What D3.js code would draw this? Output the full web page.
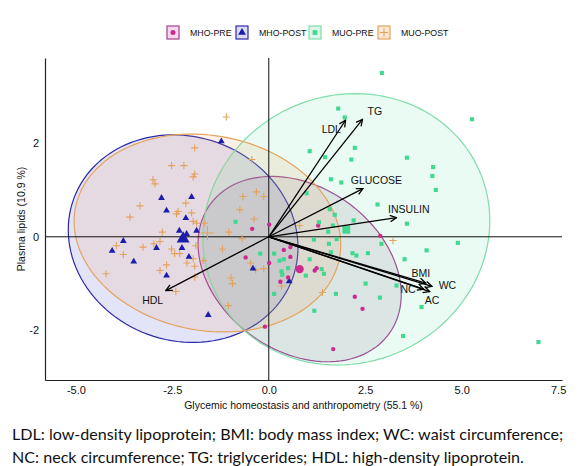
<!DOCTYPE html>
<html><head><meta charset="utf-8">
<script src="https://cdn.jsdelivr.net/npm/d3@7"></script>
<style>
body{margin:0;background:#fff;}
svg text{font-family:"Liberation Sans",Arial,sans-serif;}
</style></head>
<body><svg id="c" width="584" height="466"></svg>
<script>
// ---- data ----
const groups = ["MHO-PRE","MHO-POST","MUO-PRE","MUO-POST"];
const xTicks = [-5, -2.5, 0, 2.5, 5, 7.5];
const yTicks = [-2, 0, 2];
const xTitle = "Glycemic homeostasis and anthropometry (55.1 %)";
const yTitle = "Plasma lipids (10.9 %)";
const caption = ["LDL: low-density lipoprotein; BMI: body mass index; WC: waist circumference;",
                 "NC: neck circumference; TG: triglycerides; HDL: high-density lipoprotein."];

const mhoPre = [[0.01,0.26],[-0.43,0.17],[-0.60,-0.44],[0.01,-0.56],[0.56,-0.22],[0.39,-0.28],[0.56,-0.43],
 [1.19,-0.72],[1.24,-0.67],[0.50,-0.87],[0.30,-0.96],[2.23,-1.28],[2.43,-1.54],[2.89,0.02],[1.67,-2.40],
 [-0.10,-1.92],[1.28,0.24]];
const mhoPost = [[-1.23,2.04],[-2.78,0.83],[-2.00,0.85],[-2.65,0.56],[-2.15,0.40],[-2.32,0.13],[-2.13,0.06],
 [-1.87,0.13],[-3.77,-0.09],[-4.06,-0.30],[-2.91,-0.24],[-2.25,-0.24],[-2.07,-0.43],[-3.50,-0.53],[-2.65,-0.83],
 [-1.57,-1.67],[-0.41,-0.68],[0.53,-0.95]];
const muoPre = [[-0.86,0.32],[-0.22,-0.36],[0.14,-0.36],[0.14,-1.22],[0.28,-0.51],[0.39,-0.48],[0.50,-0.67],
 [0.33,-0.74],[0.35,-0.81],[1.06,-0.48],[0.96,-0.83],[1.37,-0.69],[1.43,-0.79],[1.18,-1.58],[1.30,0.31],
 [1.58,0.59],[1.71,0.47],[1.54,0.11],[1.76,-0.05],[1.17,-0.06],[1.56,-0.15],[2.20,0.35],[2.17,-0.35],
 [2.27,-0.40],[2.57,-0.35],[2.51,-1.00],[1.06,1.83],[1.46,1.70],[2.14,1.65],[0.98,0.93],[1.61,1.23],
 [1.88,1.16],[2.82,0.69],[1.66,0.24],[2.92,-0.15],[1.61,-0.33],[2.88,-1.30],[1.74,-1.22],[3.31,-1.04],
 [2.93,3.50],[1.80,2.74],[1.97,2.55],[5.27,2.51],[2.23,1.90],[3.58,1.69],[4.26,1.49],[4.24,1.30],
 [4.33,1.00],[3.58,0.28],[4.90,-0.13],[4.09,-0.29],[3.52,-0.48],[3.96,-1.50],[3.48,-2.12],[6.99,-2.25]];
const muoPost = [[-1.92,1.90],[-2.52,1.52],[-2.20,1.52],[-1.92,1.34],[-1.96,1.28],[-3.00,1.22],[-2.95,1.13],
 [-3.34,0.66],[-3.60,0.42],[-2.15,0.72],[-2.35,0.54],[-2.39,0.49],[-2.00,0.51],[-1.96,0.33],[-1.87,0.29],
 [-2.76,0.10],[-3.95,-0.19],[-3.26,-0.22],[-2.98,-0.15],[-2.82,-0.10],[-3.77,-0.38],[-2.52,-0.26],
 [-2.44,-0.36],[-2.31,-0.36],[-1.89,-0.19],[-1.96,-0.47],[-2.12,-0.56],[-1.92,-0.63],[-2.65,-0.60],
 [-2.82,-0.72],[-4.22,-0.79],[-1.92,-0.86],[-2.41,-1.17],[-1.70,-0.51],[-1.20,-0.26],[-1.04,0.10],
 [-0.67,0.86],[-0.32,0.96],[-0.13,0.86],[-0.75,0.58],[-0.38,0.38],[-0.69,-0.04],[-0.47,-0.56],
 [-0.34,-0.71],[-0.13,-0.68],[-0.98,-0.88],[-0.94,-1.00],[-1.05,-1.47],[-1.66,0.29],[0.80,0.24],
 [0.33,-1.05],[1.39,-1.19],[3.22,-0.08],[-1.10,2.56],[-0.44,1.65]];
const centroids = [[0.80,-0.69],[-2.22,-0.04],[2.01,0.15],[-1.59,0.08]];
// confidence ellipses: centre x, centre y, semi-axis a, semi-axis b, angle (deg)
const ellipses = [[0.80,-0.69,2.74,1.83,-21.8],[-2.22,-0.04,2.99,2.20,-7.9],
                  [2.01,0.16,3.73,2.885,7],[-1.59,0.08,3.47,2.09,-6.5]];
// variable loadings and label anchors
const varNames = ["LDL","TG","GLUCOSE","INSULIN","BMI","WC","NC","AC","HDL"];
const varX = [1.99,2.43,2.44,3.31,4.07,4.23,4.02,4.17,-2.67];
const varY = [2.49,2.51,1.03,0.41,-0.99,-1.06,-1.12,-1.17,-1.15];
const labX = [1.62,2.75,2.79,3.63,3.94,4.63,3.61,4.23,-3.01];
const labY = [2.30,2.69,1.20,0.58,-0.79,-1.04,-1.13,-1.35,-1.35];

// ---- styles ----
const ptCol = ["#cc2a8e","#1c1cad","#3fd98f","#e3a35f"];
const lineCol = ["#a63f93","#2a2aa8","#7fdcaa","#e3a35f"];
const fillCol = ["#9a6a96","#4b4bd0","#50e0a0","#e8a060"];
const fillOp = [0.17,0.15,0.12,0.15];
const keyFill = ["#f6d9ec","#dcdcf6","#dcf7ea","#fbe9d6"];

const svg = d3.select("#c");
const x = d3.scaleLinear().domain([-5.8,7.6]).range([45,562]);
const y = d3.scaleLinear().domain([-3.06,3.82]).range([380,58]);

// ellipses
const line = d3.line().x(d=>x(d[0])).y(d=>y(d[1]));
ellipses.forEach((e,i)=>{
  const [cx,cy,a,b,ang]=e, t=ang*Math.PI/180, pts=[];
  for(let k=0;k<=120;k++){const s=k/120*2*Math.PI;
    pts.push([cx+a*Math.cos(s)*Math.cos(t)-b*Math.sin(s)*Math.sin(t),
              cy+a*Math.cos(s)*Math.sin(t)+b*Math.sin(s)*Math.cos(t)]);}
  svg.append("path").attr("d",line(pts)+"Z").attr("fill",fillCol[i]).attr("fill-opacity",fillOp[i])
    .attr("stroke",lineCol[i]).attr("stroke-width",1.2);
});

// zero lines
svg.append("line").attr("x1",x(0)).attr("x2",x(0)).attr("y1",y.range()[1]).attr("y2",y.range()[0])
  .attr("stroke","#111").attr("stroke-width",1);
svg.append("line").attr("x1",x.range()[0]).attr("x2",x.range()[1]).attr("y1",y(0)).attr("y2",y(0))
  .attr("stroke","#111").attr("stroke-width",1);

// axes
const fmtX = d=>d3.format(".1f")(d).replace("−","-");
const gx = svg.append("g").attr("transform",`translate(0,${y.range()[0]})`)
  .call(d3.axisBottom(x).tickValues(xTicks).tickSize(0).tickSizeOuter(0).tickPadding(6).tickFormat(fmtX));
const gy = svg.append("g").attr("transform",`translate(${x.range()[0]},0)`)
  .call(d3.axisLeft(y).tickValues(yTicks).tickSize(0).tickSizeOuter(0).tickPadding(6).tickFormat(d=>String(d)));
[gx,gy].forEach(g=>{g.select(".domain").attr("stroke","#222").attr("stroke-width",1.2);
  g.selectAll("text").attr("font-size",11).attr("fill","#111").style("font-family","Liberation Sans,Arial,sans-serif");});

svg.append("text").attr("x",(x.range()[0]+x.range()[1])/2).attr("y",409).attr("text-anchor","middle")
  .attr("font-size",10.5).attr("fill","#111").text(xTitle);
svg.append("text").attr("transform",`translate(21,${(y.range()[0]+y.range()[1])/2}) rotate(-90)`)
  .attr("text-anchor","middle").attr("dy","0.35em").attr("font-size",10.5).attr("fill","#111").text(yTitle);

// points
const data = [mhoPre,mhoPost,muoPre,muoPost];
const crossPath = s=>`M${-s},0H${s}M0,${-s}V${s}`;
function drawMark(g,i,px,py,scale){
  if(i===3){
    g.append("path").attr("d",crossPath(3.6*scale)).attr("transform",`translate(${px},${py})`)
      .attr("stroke",ptCol[3]).attr("stroke-width",1.1).attr("fill","none");
  } else {
    const type=[d3.symbolCircle,d3.symbolTriangle,d3.symbolSquare][i];
    const size=[15,20,17][i]*scale*scale;
    g.append("path").attr("d",d3.symbol().type(type).size(size)()).attr("transform",`translate(${px},${py})`)
      .attr("fill",ptCol[i]);
  }
}
const gp = svg.append("g");
[3,1,0,2].forEach(i=>{
  data[i].forEach(d=>drawMark(gp,i,x(d[0]),y(d[1]),1));
});
centroids.forEach((c,i)=>drawMark(gp,i,x(c[0]),y(c[1]),1.9));

// arrows
svg.append("defs").append("marker").attr("id","ah").attr("markerUnits","userSpaceOnUse")
  .attr("viewBox","0 0 10 10").attr("refX",9).attr("refY",5).attr("markerWidth",8).attr("markerHeight",8)
  .attr("orient","auto").append("path").attr("d","M1,1L9,5L1,9").attr("fill","none")
  .attr("stroke","#000").attr("stroke-width",1.6);
varNames.forEach((n,i)=>{
  svg.append("line").attr("x1",x(0)).attr("y1",y(0)).attr("x2",x(varX[i])).attr("y2",y(varY[i]))
    .attr("stroke","#000").attr("stroke-width",1.3).attr("marker-end","url(#ah)");
  svg.append("text").attr("x",x(labX[i])).attr("y",y(labY[i])).attr("dy","0.35em").attr("text-anchor","middle")
    .attr("font-size",10.5).attr("fill","#111").text(n);
});

// legend
const legX = [167,236,309,378];
groups.forEach((gname,i)=>{
  const g = svg.append("g").attr("transform",`translate(${legX[i]},26)`);
  g.append("rect").attr("width",12).attr("height",13).attr("fill",keyFill[i]).attr("stroke",lineCol[i]).attr("stroke-width",1.2);
  drawMark(g,i,6,6.5,1.15);
  g.append("text").attr("x",23).attr("y",6.5).attr("dy","0.35em").attr("font-size",8.8).attr("fill","#111").text(gname);
});

// caption
caption.forEach((t,i)=>{
  svg.append("text").attr("x",12).attr("y",440+i*23).attr("font-size",16.1)
    .style("font-family","Lato, 'Open Sans', sans-serif").attr("fill","#111").text(t);
});
</script></body></html>
